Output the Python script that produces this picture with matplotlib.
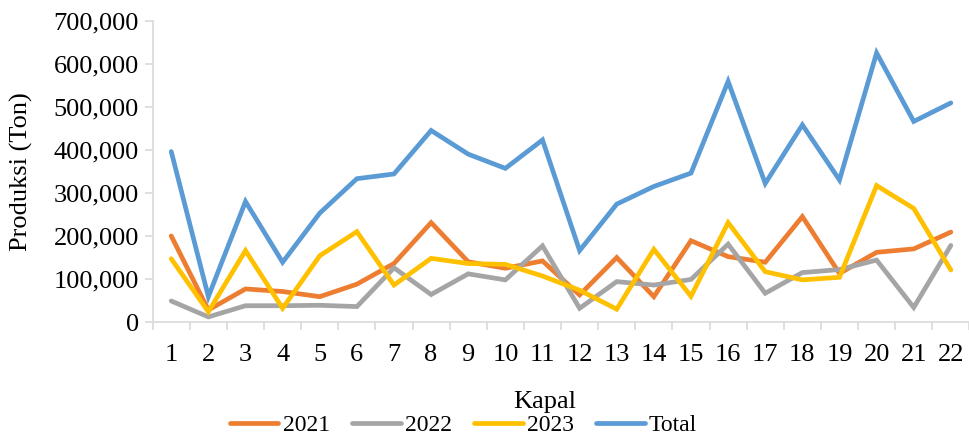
import numpy as np
import matplotlib.pyplot as plt
from matplotlib.ticker import FuncFormatter

kapal = [str(i) for i in range(1, 23)]
prod_2021 = [200, 28, 77, 71, 59, 88, 136, 231, 140, 125, 142, 63, 150, 59, 189, 152, 139, 245, 113, 162, 170, 209]
prod_2022 = [49, 12, 38, 38, 39, 36, 126, 64, 112, 98, 177, 32, 94, 86, 99, 181, 67, 115, 122, 144, 34, 178]
prod_2023 = [147, 24, 166, 32, 154, 210, 86, 148, 136, 134, 107, 74, 30, 169, 60, 231, 117, 98, 104, 317, 264, 121]
prod_total = [396, 59, 280, 139, 253, 333, 344, 445, 390, 357, 423, 166, 274, 315, 346, 559, 322, 458, 330, 625, 466, 509]

series = {
    "2021": (prod_2021, "#ED7D31"),
    "2022": (prod_2022, "#A5A5A5"),
    "2023": (prod_2023, "#FFC000"),
    "Total": (prod_total, "#5B9BD5"),
}

plt.rcParams['font.family'] = ['Liberation Serif', 'DejaVu Serif']
fs = 19

fig = plt.figure(figsize=(9.7, 4.4), dpi=100)
ax = fig.add_axes([0.1574, 0.268, 0.842, 0.685])

x = np.arange(len(kapal))
for name, (vals, col) in series.items():
    ax.plot(x, np.array(vals) * 1000, color=col, lw=3.4, label=name,
            solid_joinstyle='miter', solid_capstyle='round')

ax.set_xlim(-0.5, len(kapal) - 0.5)
ax.set_ylim(0, 700000)
ax.set_yticks(np.arange(0, 700001, 100000))
ax.yaxis.set_major_formatter(FuncFormatter(lambda v, p: f"{int(v):,}"))
ax.set_xticks(x)
ax.set_xticklabels(kapal)
ax.set_xticks(np.arange(-0.5, len(kapal), 1), minor=True)

for s in ['top', 'right']:
    ax.spines[s].set_visible(False)
for s in ['left', 'bottom']:
    ax.spines[s].set_color('#d9d9d9')
    ax.spines[s].set_linewidth(1.2)

ax.tick_params(axis='y', direction='out', length=6, width=1.2, color='#d9d9d9',
               labelsize=fs, pad=4)
ax.tick_params(axis='x', which='major', length=0, labelsize=fs, pad=16)
ax.tick_params(axis='x', which='minor', direction='out', length=6, width=1.2,
               color='#d9d9d9')

ax.set_ylabel("Produksi (Ton)", fontsize=fs)
ax.yaxis.set_label_coords(-0.147, 0.5)
fig.text(0.562, 0.086, "Kapal", fontsize=fs, ha='center', va='center')

fig.legend(loc='lower center', bbox_to_anchor=(0.478, -0.04), ncol=4, frameon=False,
           fontsize=17, handlelength=2.05, handletextpad=0.18, columnspacing=0.95)

fig.savefig("out.png", dpi=100)
